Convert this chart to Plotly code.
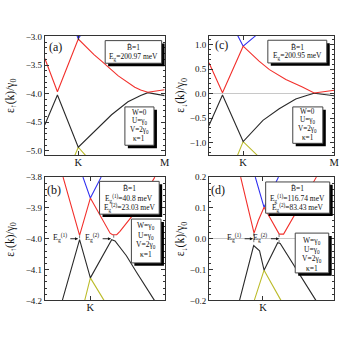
import plotly.graph_objects as go

W_PX, H_PX = 351, 341

# ---------------- data (k along path K-M, normalized; energies in units of gamma0) ----------------
# panel (a): spin up, W=0
K_A = 0.279
a_red_k = [0.0, 0.105, 0.279, 0.35, 0.41, 0.476, 0.613, 0.751, 0.80, 0.86, 0.92, 1.0]
a_red_e = [-3.385, -3.966, -3.046, -3.196, -3.32, -3.436, -3.69, -3.888, -3.935, -3.975, -3.955, -3.932]
a_blk_k = [0.0, 0.105, 0.279, 0.35, 0.42, 0.557, 0.694, 0.80, 0.86, 0.92, 1.0]
a_blk_e = [-4.543, -4.024, -4.935, -4.79, -4.65, -4.368, -4.142, -4.03, -3.982, -4.005, -4.034]
a_blu_k = [0.265, 0.279, 0.302]
a_blu_e = [-2.97, -3.04, -2.97]
a_yel_k = [0.248, 0.279, 0.345]
a_yel_e = [-5.09, -4.935, -5.09]

# panel (c): spin down, W=0
K_C = 0.273
c_red_k = [0.0, 0.108, 0.273, 0.33, 0.40, 0.483, 0.614, 0.746, 0.80, 0.84, 0.90, 1.0]
c_red_e = [0.628, 0.014, 0.965, 0.825, 0.66, 0.488, 0.288, 0.134, 0.06, 0.01, 0.03, 0.068]
c_blk_k = [0.0, 0.108, 0.273, 0.35, 0.431, 0.561, 0.693, 0.78, 0.84, 0.92, 1.0]
c_blk_e = [-0.652, -0.032, -0.98, -0.764, -0.546, -0.312, -0.112, -0.04, 0.005, -0.02, -0.046]
c_blu_k = [0.228, 0.273, 0.378]
c_blu_e = [1.19, 0.965, 1.19]
c_yel_k = [0.228, 0.273, 0.386]
c_yel_e = [-1.26, -0.98, -1.26]

# panel (b): spin up, W=gamma0 (zoom near K)
K_B = 0.38
b_red_k = [0.152, 0.29, 0.38, 0.545, 0.565, 0.60, 0.627, 0.723, 0.918]
b_red_e = [-3.8, -3.989, -3.868, -3.982, -3.987, -3.987, -3.976, -3.929, -3.8]
b_blk_k = [0.146, 0.29, 0.38, 0.558, 0.586, 0.681, 0.764, 0.915]
b_blk_e = [-4.2, -4.003, -4.127, -4.003, -4.007, -4.055, -4.108, -4.2]
b_blu_k = [0.318, 0.38, 0.47]
b_blu_e = [-3.8, -3.868, -3.8]
b_yel_k = [0.333, 0.38, 0.494]
b_yel_e = [-4.2, -4.127, -4.2]
b_gap_k = [0.29, 0.575]
b_gap_top = [-3.989, -3.987]
b_gap_bot = [-4.003, -4.005]

# panel (d): spin down, W=gamma0 (zoom near K)
K_D = 0.431
d_red_k = [0.253, 0.36, 0.394, 0.44, 0.561, 0.596, 0.858]
d_red_e = [0.2, 0.018, 0.059, 0.102, 0.015, 0.015, 0.2]
d_blk_k = [0.244, 0.357, 0.404, 0.44, 0.549, 0.569, 0.854]
d_blk_e = [-0.2, -0.022, -0.039, -0.102, -0.013, -0.015, -0.2]
d_blu_k = [0.37, 0.44, 0.555]
d_blu_e = [0.2, 0.102, 0.2]
d_yel_k = [0.362, 0.44, 0.575]
d_yel_e = [-0.2, -0.102, -0.2]
d_gap_k = [0.358, 0.56]
d_gap_top = [0.018, 0.015]
d_gap_bot = [-0.022, -0.013]

# tick labels
a_yticks = [-3.0, -3.5, -4.0, -4.5, -5.0]
c_yticks = [1.0, 0.5, 0.0, -0.5, -1.0]
b_yticks = [-3.8, -3.9, -4.0, -4.1, -4.2]
d_yticks = [0.2, 0.1, 0.0, -0.1, -0.2]

# gap arrows: (tail k, head k, energy)
b_arrows = [(0.20, 0.278, -4.0, "E<sub>g</sub><sup>(1)</sup>"), (0.47, 0.553, -4.0, "E<sub>g</sub><sup>(2)</sup>")]
d_arrows = [(0.273, 0.352, 0.0, "E<sub>g</sub><sup>(1)</sup>"), (0.483, 0.561, 0.0, "E<sub>g</sub><sup>(2)</sup>")]

# ---------------- styling ----------------
RED = "#f2302c"
BLK = "#2a2a2a"
BLU = "#2f2ff0"
YEL = "#bcbc2c"
FONT = "Liberation Serif, Times New Roman, DejaVu Serif, serif"
LW = 1.1


def px(x):
    return x / W_PX


def py(y):
    return 1 - y / H_PX


def fmt(v):
    s = f"{abs(v):.1f}"
    return ("\u2212" + s) if v < 0 else s


fig = go.Figure()

panels = [
    ("a", "x", "y", [(a_yel_k, a_yel_e, YEL), (a_blu_k, a_blu_e, BLU), (a_blk_k, a_blk_e, BLK), (a_red_k, a_red_e, RED)]),
    ("c", "x2", "y2", [(c_yel_k, c_yel_e, YEL), (c_blu_k, c_blu_e, BLU), (c_blk_k, c_blk_e, BLK), (c_red_k, c_red_e, RED)]),
    ("b", "x3", "y3", [(b_yel_k, b_yel_e, YEL), (b_blu_k, b_blu_e, BLU), (b_blk_k, b_blk_e, BLK), (b_red_k, b_red_e, RED)]),
    ("d", "x4", "y4", [(d_yel_k, d_yel_e, YEL), (d_blu_k, d_blu_e, BLU), (d_blk_k, d_blk_e, BLK), (d_red_k, d_red_e, RED)]),
]
for name, xa, ya, curves in panels:
    for kk, ee, col in curves:
        fig.add_trace(go.Scatter(x=kk, y=ee, mode="lines", xaxis=xa, yaxis=ya,
                                 line=dict(color=col, width=LW), hoverinfo="skip", showlegend=False))

# gap markers (dotted)
for kk, tops, bots, xa, ya in [(b_gap_k, b_gap_top, b_gap_bot, "x3", "y3"), (d_gap_k, d_gap_top, d_gap_bot, "x4", "y4")]:
    for k0, t, b in zip(kk, tops, bots):
        fig.add_trace(go.Scatter(x=[k0, k0], y=[t, b], mode="lines", xaxis=xa, yaxis=ya,
                                 line=dict(color="#777", width=1, dash="dot"), hoverinfo="skip", showlegend=False))

# ---------------- axes ----------------
LX = [45.5 / W_PX, 167 / W_PX]
RX = [212 / W_PX, 339 / W_PX]
TY = [py(154.5), py(31.5)]
BY = [py(304.3), py(177.3)]

common = dict(showline=True, linecolor="#333", linewidth=1, mirror="ticks", ticks="inside",
              ticklen=4, tickwidth=1, tickcolor="#333", showgrid=False,
              tickfont=dict(family=FONT, size=9, color="#111"), fixedrange=True)


def yax(dom, rng, tv, minor_dt, zero, anchor):
    d = dict(common)
    d.update(domain=dom, range=rng, tickmode="array", tickvals=tv, ticktext=[fmt(v) for v in tv],
             anchor=anchor, zeroline=zero, zerolinecolor="#c8c8c8", zerolinewidth=1,
             minor=dict(ticks="inside", ticklen=2, tickcolor="#333", tickmode="linear", tick0=0, dtick=minor_dt))
    return d


def xax(dom, kpos, with_m, anchor):
    d = dict(common)
    tv = [kpos, 1.0] if with_m else [kpos]
    tt = ["K", "M"] if with_m else ["K"]
    d.update(domain=dom, range=[0, 1], tickmode="array", tickvals=tv, ticktext=tt, anchor=anchor,
             zeroline=False, ticklabelstandoff=-3, tickfont=dict(family=FONT, size=10.5, color="#111"))
    return d


fig.update_layout(
    width=W_PX, height=H_PX, margin=dict(l=0, r=0, t=0, b=0),
    paper_bgcolor="white", plot_bgcolor="white",
    font=dict(family=FONT),
    xaxis=xax(LX, K_A, True, "y"),
    yaxis=yax(TY, [-5.07, -2.986], a_yticks, 0.1, False, "x"),
    xaxis2=xax(RX, K_C, True, "y2"),
    yaxis2=yax(TY, [-1.253, 1.182], c_yticks, 0.1, True, "x2"),
    xaxis3=xax(LX, K_B, False, "y3"),
    yaxis3=yax(BY, [-4.2, -3.8], b_yticks, 0.02, False, "x3"),
    xaxis4=xax(RX, K_D, False, "y4"),
    yaxis4=yax(BY, [-0.2, 0.2], d_yticks, 0.02, True, "x4"),
)

# ---------------- boxes with drop shadows ----------------
shapes = []


def box(x0, y0, x1, y1):
    shapes.append(dict(type="rect", xref="paper", yref="paper", x0=px(x0 + 3), x1=px(x1 + 3),
                       y0=py(y1 + 3), y1=py(y0 + 3), fillcolor="black", line=dict(width=0), layer="above"))
    shapes.append(dict(type="rect", xref="paper", yref="paper", x0=px(x0), x1=px(x1),
                       y0=py(y1), y1=py(y0), fillcolor="white", line=dict(color="#444", width=1), layer="above"))


box(106.7, 36.7, 164.0, 60.0)    # (a) top
box(126.7, 105.0, 156.2, 144.5)  # (a) bottom
box(271.7, 36.3, 331.5, 59.7)    # (c) top
box(297.0, 105.0, 327.5, 142.5)  # (c) bottom
box(101.0, 181.7, 161.5, 215.5)  # (b) top
box(133.3, 220.5, 163.3, 265.7)  # (b) bottom
box(269.5, 182.3, 334.5, 214.5)  # (d) top
box(299.5, 235.0, 333.5, 276.0)  # (d) bottom
fig.update_layout(shapes=shapes)

ann = []
BOXFS = 7.5


def note(x, y, text, size=BOXFS, xanchor="center"):
    ann.append(dict(xref="paper", yref="paper", x=px(x), y=py(y), text=text, showarrow=False,
                    xanchor=xanchor, yanchor="middle", font=dict(family=FONT, size=size, color="#111")))


BT = "B\u0303=1"
PARS0 = ["W=0", "U=\u03b3<sub>0</sub>", "V=2\u03b3<sub>0</sub>", "\u03ba=1"]
PARS1 = ["W=\u03b3<sub>0</sub>", "U=\u03b3<sub>0</sub>", "V=2\u03b3<sub>0</sub>", "\u03ba=1"]
# (a)
note(135.3, 44.0, BT)
note(135.3, 53.5, "E<sub>g</sub>=200.97 meV")
for i, t in enumerate(PARS0):
    note(141.5, 111.0 + 9.0 * i, t, 7.2)
# (c)
note(301.6, 43.5, BT)
note(301.6, 53.0, "E<sub>g</sub>=200.95 meV")
for i, t in enumerate(PARS0):
    note(312.2, 110.0 + 8.9 * i, t, 7.2)
# (b)
note(131.2, 189.0, BT)
note(131.2, 199.0, "E<sub>g</sub><sup>(1)</sup>=40.8 meV")
note(131.2, 208.5, "E<sub>g</sub><sup>(2)</sup>=23.03 meV")
for i, t in enumerate(PARS1):
    note(148.3, 227.5 + 10.0 * i, t)
# (d)
note(302.0, 189.3, BT)
note(302.0, 199.3, "E<sub>g</sub><sup>(1)</sup>=116.74 meV")
note(302.0, 208.8, "E<sub>g</sub><sup>(2)</sup>=83.43 meV")
for i, t in enumerate(PARS1):
    note(316.5, 243.5 + 9.3 * i, t)

# panel labels
note(56.5, 43.5, "(a)", 12)
note(224.7, 41.5, "(c)", 12)
note(54.5, 190.5, "(b)", 12)
note(221.5, 190.5, "(d)", 12)

# y-axis titles
for x, y, t in [(11, 93, "\u03b5<sub>\u2191</sub>(k)/\u03b3<sub>0</sub>"), (184, 93, "\u03b5<sub>\u2193</sub>(k)/\u03b3<sub>0</sub>"),
                (11, 241, "\u03b5<sub>\u2191</sub>(k)/\u03b3<sub>0</sub>"), (184, 241, "\u03b5<sub>\u2193</sub>(k)/\u03b3<sub>0</sub>")]:
    ann.append(dict(xref="paper", yref="paper", x=px(x), y=py(y), text=t, showarrow=False, textangle=-90,
                    xanchor="center", yanchor="middle", font=dict(family=FONT, size=11.5, color="#111")))

# gap arrows
for arrows, xa, ya in [(b_arrows, "x3", "y3"), (d_arrows, "x4", "y4")]:
    for tail, head, e, lab in arrows:
        ann.append(dict(xref=xa, yref=ya, x=head, y=e, axref=xa, ayref=ya, ax=tail, ay=e, text="",
                        showarrow=True, arrowhead=2, arrowsize=0.7, arrowwidth=0.9, arrowcolor="#111"))
        ann.append(dict(xref=xa, yref=ya, x=tail, y=e, text=lab, showarrow=False, xanchor="right",
                        yanchor="middle", yshift=1, font=dict(family=FONT, size=8, color="#111")))

fig.update_layout(annotations=ann)

fig.write_html("out.html", config={"displayModeBar": False},
               post_script="document.body.style.margin='0';document.body.style.overflow='hidden';")
